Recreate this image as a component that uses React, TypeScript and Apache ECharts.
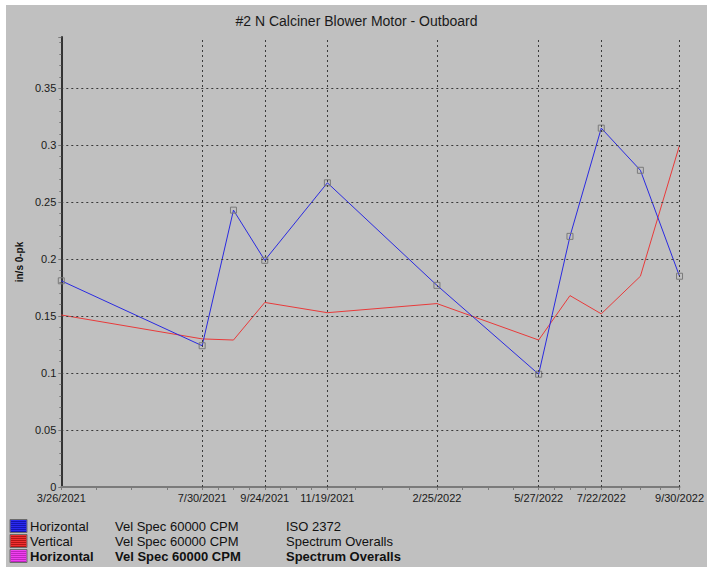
import React, { useEffect, useRef } from "react";
import * as echarts from "echarts";

const TITLE = "#2 N Calciner Blower Motor - Outboard";
const Y_NAME = "in/s 0-pk";

const dates = [
  "2021-03-26", "2021-07-30", "2021-08-27", "2021-09-24", "2021-11-19",
  "2022-02-25", "2022-05-27", "2022-06-24", "2022-07-22", "2022-08-26", "2022-09-30",
];
const horizontal = [0.181, 0.124, 0.243, 0.199, 0.267, 0.177, 0.099, 0.220, 0.315, 0.278, 0.185];
const vertical = [0.151, 0.130, 0.129, 0.162, 0.153, 0.161, 0.129, 0.168, 0.152, 0.185, 0.300];

const xLabelDates = [
  "2021-03-26", "2021-07-30", "2021-09-24", "2021-11-19",
  "2022-02-25", "2022-05-27", "2022-07-22", "2022-09-30",
];
const yGridValues = [0.05, 0.1, 0.15, 0.2, 0.25, 0.3, 0.35];

const legendRows = [
  { color: "#2a2af0", stripe: "#1010a0", c1: "Horizontal", c2: "Vel Spec 60000 CPM", c3: "ISO 2372", bold: false },
  { color: "#f03030", stripe: "#a01010", c1: "Vertical", c2: "Vel Spec 60000 CPM", c3: "Spectrum Overalls", bold: false },
  { color: "#f040f0", stripe: "#b020b0", c1: "Horizontal", c2: "Vel Spec 60000 CPM", c3: "Spectrum Overalls", bold: true },
];

const FONT = "'Liberation Sans', Arial, sans-serif";
const OX = 6;
const OY = 5;
const DAY = 86400000;

// day number (UTC based, no DST issues)
function dn(s: string): number {
  const [y, m, d] = s.split("-").map(Number);
  return Math.round(Date.UTC(y, m - 1, d) / DAY);
}
function fmt(v: number): string {
  const d = new Date(Math.round(v) * DAY);
  return `${d.getUTCMonth() + 1}/${d.getUTCDate()}/${d.getUTCFullYear()}`;
}

export default function App() {
  const ref = useRef<HTMLDivElement>(null);
  useEffect(() => {
    if (!ref.current) return;
    const chart = echarts.init(ref.current, undefined, { renderer: "svg" });
    const labelVals = xLabelDates.map(dn);
    const tickVals: number[] = [];
    for (let i = 0; i < labelVals.length - 1; i++) {
      const a = labelVals[i];
      const b = labelVals[i + 1];
      for (let k = 0; k < 4; k++) tickVals.push(a + ((b - a) * k) / 4);
    }
    tickVals.push(labelVals[labelVals.length - 1]);

    const graphics: any[] = [];
    const rowY = [526, 541, 556];
    legendRows.forEach((r, i) => {
      const cy = rowY[i] - OY;
      const top = cy - 6.5;
      const left = 10 - OX;
      graphics.push({
        type: "rect",
        shape: { x: left, y: top, width: 17, height: 13 },
        style: { fill: r.color, stroke: "#6a6a6a", lineWidth: 1 },
      });
      for (let s = 2; s < 13; s += 2) {
        graphics.push({
          type: "line",
          shape: { x1: left + 1, y1: top + s, x2: left + 16, y2: top + s },
          style: { stroke: r.stripe, lineWidth: 0.8 },
        });
      }
      const tstyle = {
        fill: "#111",
        font: `${r.bold ? "bold " : ""}13px ${FONT}`,
        textVerticalAlign: "middle",
      };
      graphics.push({ type: "text", x: 30 - OX, y: cy, style: { ...tstyle, text: r.c1 } });
      graphics.push({ type: "text", x: 115 - OX, y: cy, style: { ...tstyle, text: r.c2 } });
      graphics.push({ type: "text", x: 286 - OX, y: cy, style: { ...tstyle, text: r.c3 } });
    });

    chart.setOption({
      animation: false,
      backgroundColor: "#c0c0c0",
      title: {
        text: TITLE,
        left: "center",
        top: 9,
        padding: 0,
        textStyle: { fontFamily: FONT, fontSize: 14, fontWeight: "normal", color: "#1a1a1a" },
      },
      grid: { left: 61 - OX, right: 707 - 682, top: 37 - OY, bottom: 567 - 487, containLabel: false },
      xAxis: {
        type: "value",
        min: labelVals[0],
        max: labelVals[labelVals.length - 1],
        axisLine: { show: true, onZero: false, lineStyle: { color: "#7a7a7a", width: 2 } },
        axisTick: { show: true, customValues: tickVals, length: 3, lineStyle: { color: "#7a7a7a" } },
        axisLabel: {
          customValues: labelVals,
          formatter: (v: number) => fmt(v),
          fontFamily: FONT,
          fontSize: 11,
          color: "#1a1a1a",
          margin: 5,
          showMinLabel: true,
          showMaxLabel: true,
          hideOverlap: false,
        },
        splitLine: { show: false },
      },
      yAxis: {
        type: "value",
        min: 0,
        max: 0.395,
        interval: 0.05,
        name: Y_NAME,
        nameLocation: "middle",
        nameGap: 30,
        nameTextStyle: { fontFamily: FONT, fontSize: 10, fontWeight: "bold", color: "#111" },
        axisLine: { show: true, lineStyle: { color: "#333", width: 2 } },
        axisTick: { show: true, length: 3, lineStyle: { color: "#7a7a7a" } },
        minorTick: { show: true, splitNumber: 5, length: 2, lineStyle: { color: "#7a7a7a" } },
        axisLabel: {
          fontFamily: FONT,
          fontSize: 11,
          color: "#1a1a1a",
          margin: 5,
          formatter: (v: number) => {
            if (Math.abs(v * 20 - Math.round(v * 20)) > 1e-6) return "";
            return String(Math.round(v * 100) / 100);
          },
        },
        splitLine: { show: false },
      },
      series: [
        {
          type: "line",
          data: [],
          z: 1,
          silent: true,
          markLine: {
            silent: true,
            symbol: ["none", "none"],
            label: { show: false },
            lineStyle: { color: "#3a3a3a", type: [2, 3], width: 1 },
            data: [
              ...labelVals.slice(1).map((v) => ({ xAxis: v })),
              ...yGridValues.map((v) => ({ yAxis: v })),
            ],
          },
        },
        {
          name: "Vertical",
          type: "line",
          z: 3,
          data: dates.map((d, i) => [dn(d), vertical[i]]),
          showSymbol: false,
          symbol: "none",
          lineStyle: { color: "#e83a3a", width: 1 },
        },
        {
          name: "Horizontal",
          type: "line",
          z: 4,
          data: dates.map((d, i) => [dn(d), horizontal[i]]),
          symbol: "rect",
          symbolSize: 6,
          lineStyle: { color: "#2a2ae0", width: 1 },
          itemStyle: { color: "rgba(0,0,0,0)", borderColor: "#7a7a7a", borderWidth: 1 },
        },
      ],
      graphic: graphics,
    });
    return () => chart.dispose();
  }, []);

  return (
    <div style={{ position: "fixed", left: 0, top: 0, width: 707, height: 567, background: "#ffffff" }}>
      <div ref={ref} style={{ position: "absolute", left: OX, top: OY, width: 707 - OX, height: 567 - OY }} />
    </div>
  );
}
